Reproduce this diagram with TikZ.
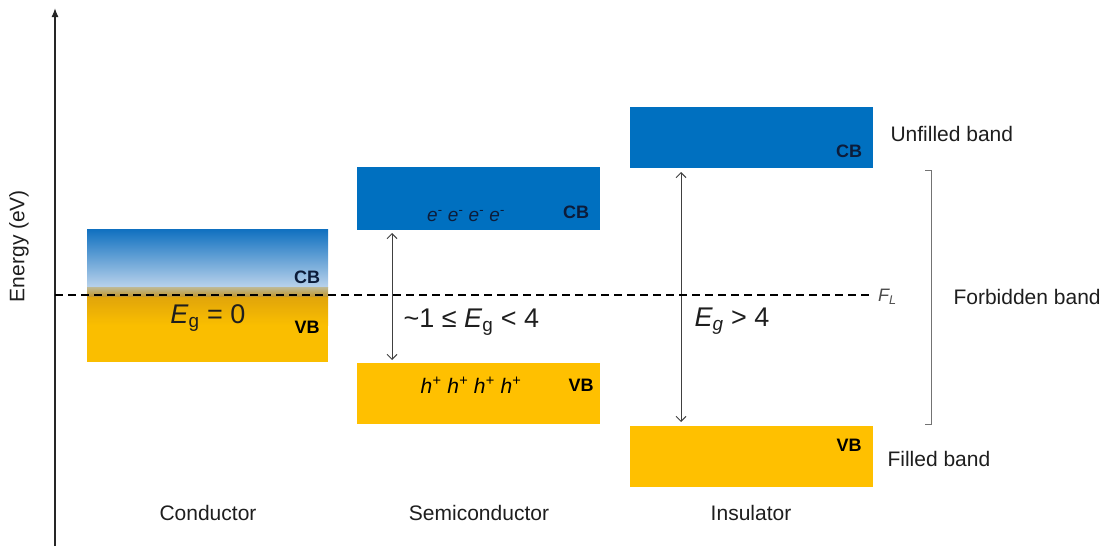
\documentclass[tikz,border=0pt]{standalone}
\usepackage{fontspec}
\setmainfont{Liberation Sans}
\usetikzlibrary{calc,arrows.meta}
\definecolor{cbblue}{RGB}{0,112,192}
\definecolor{vbgold}{RGB}{255,192,0}
\definecolor{navy}{RGB}{12,28,58}
\definecolor{txt}{RGB}{30,30,30}
\definecolor{cA}{RGB}{15,112,192}
\definecolor{cB}{RGB}{185,210,235}
\definecolor{cC}{RGB}{190,185,150}
\definecolor{cD}{RGB}{195,150,40}
\definecolor{cE}{RGB}{225,165,10}
\definecolor{cF}{RGB}{250,190,0}
\begin{document}
\begin{tikzpicture}[x=1pt,y=-1pt,
  band/.style={minimum width=243pt, minimum height=61pt, inner sep=0pt, outer sep=0pt, anchor=north west},
  lbl/.style={font=\fontsize{21}{25}\selectfont, text=txt},
  bandlbl/.style={font=\bfseries\fontsize{18}{20}\selectfont},
  eglbl/.style={font=\fontsize{27}{30}\selectfont, text=txt},
  gap/.style={{Straight Barb[length=5pt,width=10pt]}-{Straight Barb[length=5pt,width=10pt]}, draw=black!75, line width=1pt}]
\useasboundingbox (0,0) rectangle (1102,546);

% axis
\coordinate (ax0) at (55,546);
\coordinate (ax1) at (55,8);
\draw[line width=1.3pt, draw=black!85, -{Latex[length=9pt,width=7pt]}] (ax0) -- (ax1);
\node[lbl, rotate=90] (elab) at (19,246) {Energy (eV)};

% conductor
\shade[top color=cA, bottom color=cB] (87,229) rectangle (328,287);
\shade[top color=cC, bottom color=cD] (87,287) rectangle (328,297);
\shade[top color=cE, bottom color=cF] (87,297) rectangle (328,325);
\fill[cF] (87,325) rectangle (328,362);
\node[band, minimum width=241pt, minimum height=133pt] (cond) at (87,229) {};
\node[bandlbl, text=navy] (ccb) at (307,277) {CB};
\node[bandlbl, text=black] (cvb) at (307,327) {VB};
\node[eglbl] (eg0) at (208,318) {\textit{E}\textsubscript{g} = 0};

% semiconductor
\node[band, fill=cbblue, minimum height=63pt] (scb) at (357,167) {};
\node[band, fill=vbgold] (svb) at (357,363) {};
\node[bandlbl, text=navy] (scbl) at (576,212) {CB};
\node[bandlbl, text=black] (svbl) at (581,385) {VB};
\node[font=\itshape\fontsize{19}{21}\selectfont, text=navy] (elec) at (466,216)
  {e\textsuperscript{-} e\textsuperscript{-} e\textsuperscript{-} e\textsuperscript{-}};
\node[font=\itshape\fontsize{21}{23}\selectfont, text=black] (hole) at (471,385)
  {h\textsuperscript{+} h\textsuperscript{+} h\textsuperscript{+} h\textsuperscript{+}};
\draw[gap] ($(scb.south west)+(35,3)$) -- ($(svb.north west)+(35,-3)$);
\node[eglbl, anchor=west] (egs) at (400,322) {\textasciitilde1 ≤ \textit{E}\textsubscript{g} < 4};

% insulator
\node[band, fill=cbblue] (icb) at (630,107) {};
\node[band, fill=vbgold] (ivb) at (630,426) {};
\node[bandlbl, text=navy] (icbl) at (849,151) {CB};
\node[bandlbl, text=black] (ivbl) at (849,445) {VB};
\draw[gap] ($(icb.south west)+(51,4)$) -- ($(ivb.north west)+(51,-4)$);
\node[eglbl, anchor=west] (egi) at (691,321) {\textit{E\textsubscript{g}} > 4};

% Fermi level
\coordinate (fl0) at (55,295);
\coordinate (fl1) at (872,295);
\draw[dash pattern=on 8pt off 5pt, line width=1.5pt] (fl0) -- (fl1);
\node[font=\itshape\fontsize{18}{20}\selectfont, text=black!70, anchor=west, inner sep=1pt] (fl) at (877,297) {F\textsubscript{L}};

% forbidden band bracket
\coordinate (br0) at (925,170);
\coordinate (br1) at (931,170);
\coordinate (br2) at (931,424);
\coordinate (br3) at (925,424);
\draw[draw=black!55, line width=1pt] (br0) -- (br1) -- (br2) -- (br3);
\node[lbl, anchor=west] (fb) at (950,297) {Forbidden band};
\node[lbl, anchor=west] (ub) at (887,134) {Unfilled band};
\node[lbl, anchor=west] (fdb) at (884,459) {Filled band};

% category labels
\node[lbl] (lc) at (208,513) {Conductor};
\node[lbl] (ls) at (479,513) {Semiconductor};
\node[lbl] (li) at (751,513) {Insulator};
\end{tikzpicture}
\end{document}
